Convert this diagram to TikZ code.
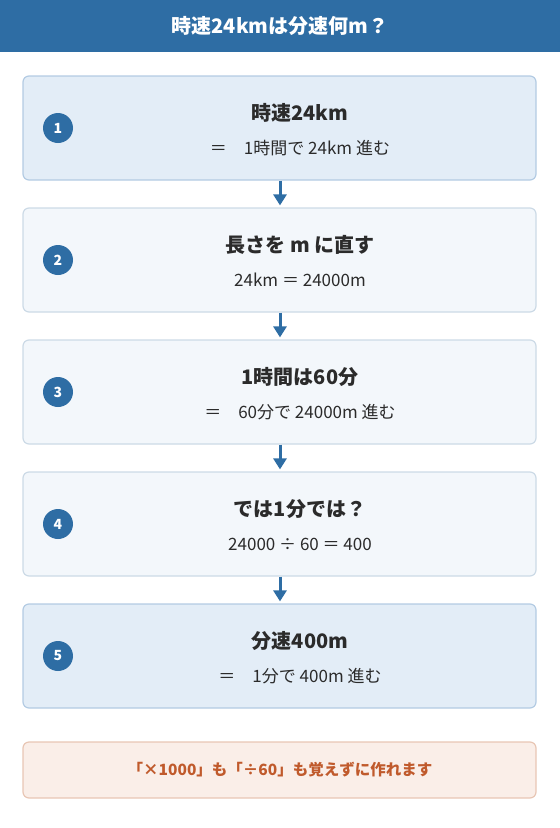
\documentclass[tikz,border=0pt]{standalone}
\usepackage{fontspec}
\setmainfont{Noto Sans CJK JP}
\usetikzlibrary{arrows.meta}
\definecolor{hdr}{HTML}{2E6DA4}
\definecolor{fillA}{HTML}{E3EDF7}
\definecolor{lineA}{HTML}{B3CBE3}
\definecolor{fillB}{HTML}{F3F7FB}
\definecolor{lineB}{HTML}{CCDAE6}
\definecolor{fillN}{HTML}{FAEEE8}
\definecolor{lineN}{HTML}{E8C6B4}
\definecolor{txtN}{HTML}{C05A2C}
\definecolor{ink}{HTML}{2B2B2B}

\begin{document}
\begin{tikzpicture}[x=1pt, y=-1pt,
  stepbox/.style={rectangle, rounded corners=6pt, line width=1.2pt, minimum width=513pt, minimum height=104pt},
  numdot/.style={circle, fill=hdr, minimum size=30pt, inner sep=0pt, text=white, font=\fontsize{14}{14}\selectfont\bfseries},
  big/.style={font=\fontsize{20}{20}\selectfont\bfseries, text=ink},
  small/.style={font=\fontsize{17}{17}\selectfont, text=ink},
  flow/.style={hdr, line width=3pt, -{Triangle[length=11pt, width=13pt]}, shorten >=2pt}]
  \useasboundingbox (0,0) rectangle (560,828);
  % header
  \fill[hdr] (0,0) rectangle (560,52);
  \node[text=white, font=\fontsize{20}{20}\selectfont\bfseries] (head) at (280,26) {時速24kmは分速何m？};

  % steps
  \node[stepbox, fill=fillA, draw=lineA] (s1) at (279.5,128) {};
  \node[stepbox, fill=fillB, draw=lineB] (s2) at (279.5,260) {};
  \node[stepbox, fill=fillB, draw=lineB] (s3) at (279.5,392) {};
  \node[stepbox, fill=fillB, draw=lineB] (s4) at (279.5,524) {};
  \node[stepbox, fill=fillA, draw=lineA] (s5) at (279.5,656) {};

  \foreach \i/\y in {1/128, 2/260, 3/392, 4/524, 5/656}
    \node[numdot] (n\i) at (58,\y) {\i};

  \node[big] (t1) at (300,113) {時速24km};
  \node[small] (u1) at (300,148) {＝　1時間で 24km 進む};
  \node[big] (t2) at (300,245) {長さを m に直す};
  \node[small] (u2) at (300,280) {24km ＝ 24000m};
  \node[big] (t3) at (300,377) {1時間は60分};
  \node[small] (u3) at (300,412) {＝　60分で 24000m 進む};
  \node[big] (t4) at (300,509) {では1分では？};
  \node[small] (u4) at (300,544) {24000 ÷ 60 ＝ 400};
  \node[big] (t5) at (300,641) {分速400m};
  \node[small] (u5) at (300,676) {＝　1分で 400m 進む};

  \foreach \a/\b in {1/2, 2/3, 3/4, 4/5}
    \draw[flow] (s\a.south -| 280,0) -- (s\b.north -| 280,0);

  % note
  \node[rectangle, rounded corners=6pt, line width=1.2pt, fill=fillN, draw=lineN,
    minimum width=513pt, minimum height=56pt] (note) at (279.5,770) {};
  \node[text=txtN, font=\fontsize{15.5}{15.5}\selectfont\bfseries] (notetxt) at (280,770) {「×1000」も「÷60」も覚えずに作れます};
\end{tikzpicture}
\end{document}
